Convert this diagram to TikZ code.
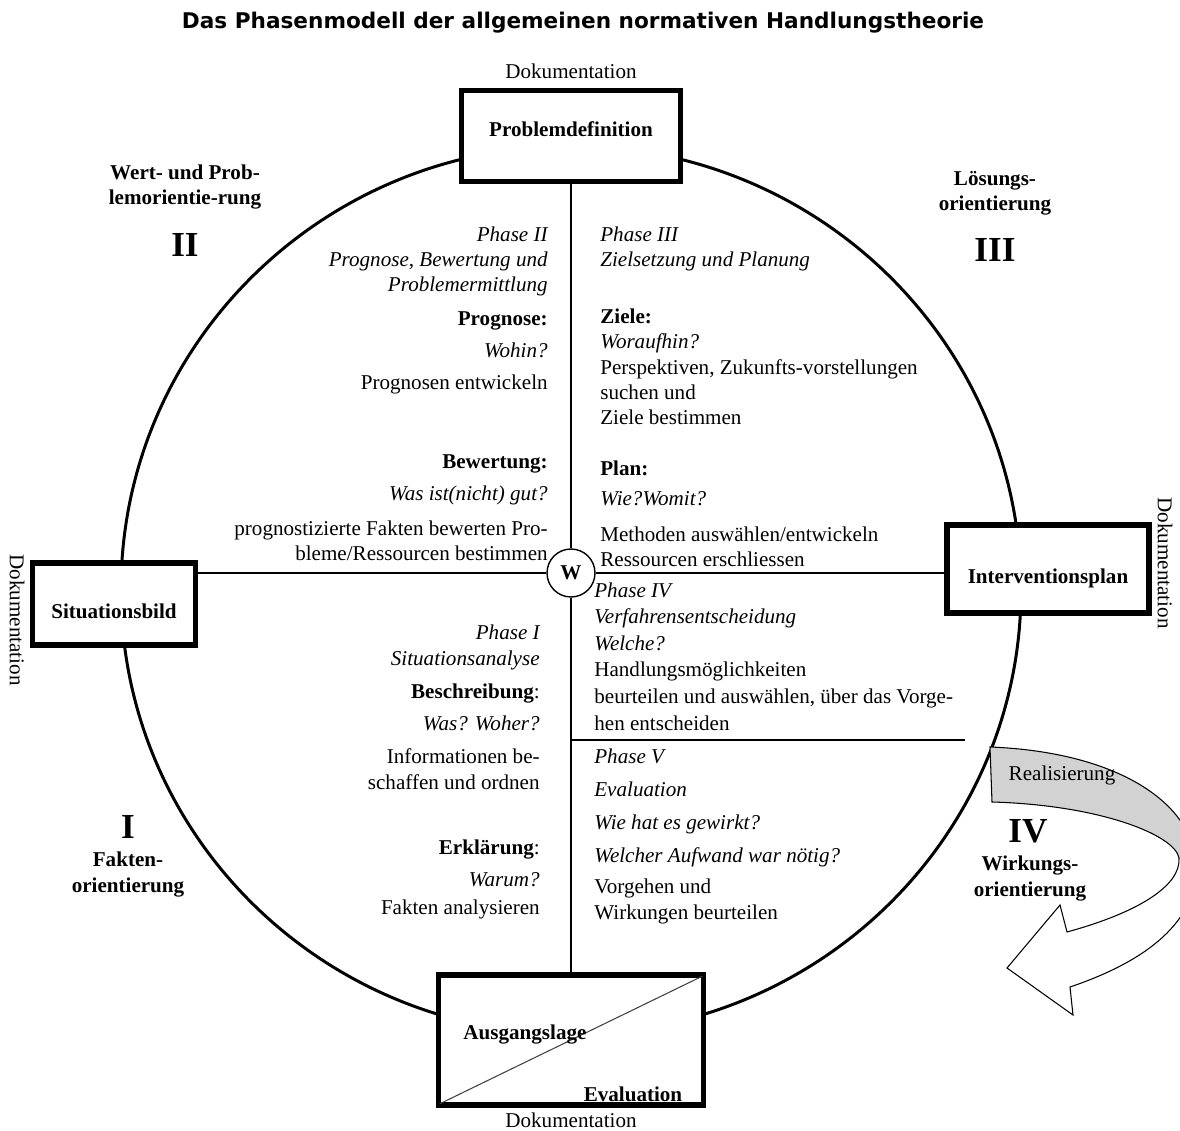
\documentclass[tikz,border=0pt,12pt]{standalone}
\usepackage{fontspec}
\setmainfont{Liberation Serif}
\newfontfamily\titlefont{DejaVu Sans}
\usepackage{tikz}
\usetikzlibrary{positioning}
\usepackage{xcolor}

\begin{document}
\begin{tikzpicture}[
      x=0.02cm, y=-0.02cm,
      station/.style={draw, line width=3.2pt, fill=white, font=\bfseries},
      ring/.style={line width=1.7pt},
      axis/.style={line width=1.6pt},
      lblk/.style={align=right, anchor=base east, inner sep=0pt},
      rblk/.style={align=left, anchor=base west, inner sep=0pt},
      orient/.style={align=center, anchor=base, inner sep=0pt, font=\bfseries},
      numeral/.style={anchor=base, inner sep=0pt, font=\fontsize{20}{24}\selectfont\bfseries}
    ]
    \useasboundingbox (0,0) rectangle (1180,1131);

    % Title
    \node[font=\titlefont\bfseries\fontsize{12.3}{15}\selectfont] (title) at (583,23) {Das Phasenmodell der allgemeinen normativen Handlungstheorie};

    % Circle
    \draw[ring] (571,590) ellipse [x radius=450, y radius=444];

    % Realisierung arrow
    \def\bandpath{(990,747) .. controls (1120,752) and (1196,805) .. (1196,868) .. controls (1196,920) and (1150,960) .. (1070,987) -- (1073,1015) -- (1007,968) -- (1060,905) -- (1067,932) .. controls (1140,912) and (1181,885) .. (1179,858) .. controls (1175,835) and (1100,805) .. (992,802) -- cycle}
    \begin{scope}
      \clip (0,0) rectangle (1180,1131);
      \fill[white] \bandpath;
      \begin{scope}
        \clip (980,740) rectangle (1180,858);
        \fill[gray!35] \bandpath;
      \end{scope}
      \draw[line width=0.6pt] \bandpath;
    \end{scope}
    \node (real) at (1062,775) {Realisierung};

    % Stations
    \node[station, minimum width=4.38cm, minimum height=1.82cm, text depth=0.29cm] (prob) at (571,136) {Problemdefinition};
    \node[station, minimum width=3.26cm, minimum height=1.64cm, text height=0.62cm, text depth=0.04cm] (situ) at (114,604) {Situationsbild};
    \node[station, minimum width=4.04cm, minimum height=1.76cm, text height=0.62cm, text depth=0.04cm] (inter) at (1048,569) {Interventionsplan};
    \node[station, minimum width=5.3cm, minimum height=2.6cm] (aus) at (571,1040) {};
    \draw[line width=0.6pt, black!75] ([shift={(4,-4)}]aus.south west) -- ([shift={(-4,4)}]aus.north east);
    \node[font=\bfseries] (austxt) at (525,1035) {Ausgangslage};
    \node[font=\bfseries] (evaltxt) at (633,1094) {Evaluation};

    % Dokumentation
    \node[above=0.04cm of prob] (doctop) {Dokumentation};
    \node[below=-0.05cm of aus] (docbot) {Dokumentation};
    \node[rotate=-90] (docleft) at (17,620) {Dokumentation};
    \node[rotate=-90] (docright) at (1165,563) {Dokumentation};

    % Phase II
    \node[lblk, font=\itshape] (ph2) at (548,292) {Phase II\\Prognose, Bewertung und\\Problemermittlung};
    \node[lblk, font=\bfseries] (prog) at (548,326) {Prognose:};
    \node[lblk, font=\itshape] (wohin) at (548,358) {Wohin?};
    \node[lblk] (progtxt) at (548,390) {Prognosen entwickeln};
    \node[lblk, font=\bfseries] (bew) at (548,469) {Bewertung:};
    \node[lblk, font=\itshape] (wasgut) at (548,501) {Was ist(nicht) gut?};
    \node[lblk] (bewtxt) at (548,561) {prognostizierte Fakten bewerten Pro-\\bleme/Ressourcen bestimmen};

    % Phase I
    \node[lblk, font=\itshape] (ph1) at (540,665) {Phase I\\Situationsanalyse};
    \node[lblk] (beschr) at (540,698) {\textbf{Beschreibung}:};
    \node[lblk, font=\itshape] (woher) at (540,730) {Was? Woher?};
    \node[lblk] (beschrtxt) at (540,789) {Informationen be-\\schaffen und ordnen};
    \node[lblk] (erkl) at (540,854) {\textbf{Erklärung}:};
    \node[lblk, font=\itshape] (warum) at (540,886) {Warum?};
    \node[lblk] (erkltxt) at (540,914) {Fakten analysieren};

    % Phase III
    \node[rblk, font=\itshape] (ph3) at (600,267) {Phase III\\Zielsetzung und Planung};
    \node[rblk] (ziele) at (600,425) {\textbf{Ziele:}\\\textit{Woraufhin?}\\Perspektiven, Zukunfts-vorstellungen\\suchen und\\Ziele bestimmen};
    \node[rblk, font=\bfseries] (plan) at (600,476) {Plan:};
    \node[rblk, font=\itshape] (womit) at (600,506) {Wie?Womit?};
    \node[rblk] (plantxt) at (600,567) {Methoden auswählen/entwickeln\\Ressourcen erschliessen};

    % Phase IV and V
    \node[rblk, font=\fontsize{12}{15.1}\selectfont] (ph4) at (594,730) {\textit{Phase IV}\\\textit{Verfahrensentscheidung}\\\textit{Welche?}\\Handlungsmöglichkeiten\\beurteilen und auswählen, über das Vorge-\\hen entscheiden};
    \node[rblk, font=\fontsize{12}{18.7}\selectfont\itshape] (ph5) at (594,862) {Phase V\\Evaluation\\Wie hat es gewirkt?\\Welcher Aufwand war nötig?};
    \node[rblk] (ph5txt) at (594,919) {Vorgehen und\\Wirkungen beurteilen};

    % Orientations
    \node[orient] (wert) at (185,205) {Wert- und Prob-\\lemorientie-rung};
    \node[numeral] (n2) at (185,257) {II};
    \node[orient] (loes) at (995,211) {Lösungs-\\orientierung};
    \node[numeral] (n3) at (995,262) {III};
    \node[numeral] (n1) at (128,838) {I};
    \node[orient] (fakt) at (128,892) {Fakten-\\orientierung};
    \node[numeral] (n4) at (1028,842) {IV};
    \node[orient] (wirk) at (1030,896) {Wirkungs-\\orientierung};

    % W
    \node[draw, circle, fill=white, line width=0.8pt, minimum size=0.96cm, inner sep=0pt, font=\bfseries] (w) at (571,573) {W};

    % Lines
    \draw[axis] (prob) -- (w);
    \draw[axis] (w) -- (aus);
    \draw[axis] (w) -- (situ.east |- w);
    \draw[axis] (w) -- (inter.west |- w);
    \coordinate (sepend) at (965,740);
    \draw[line width=0.8pt] (w |- sepend) -- (sepend);
  \end{tikzpicture}
\end{document}
